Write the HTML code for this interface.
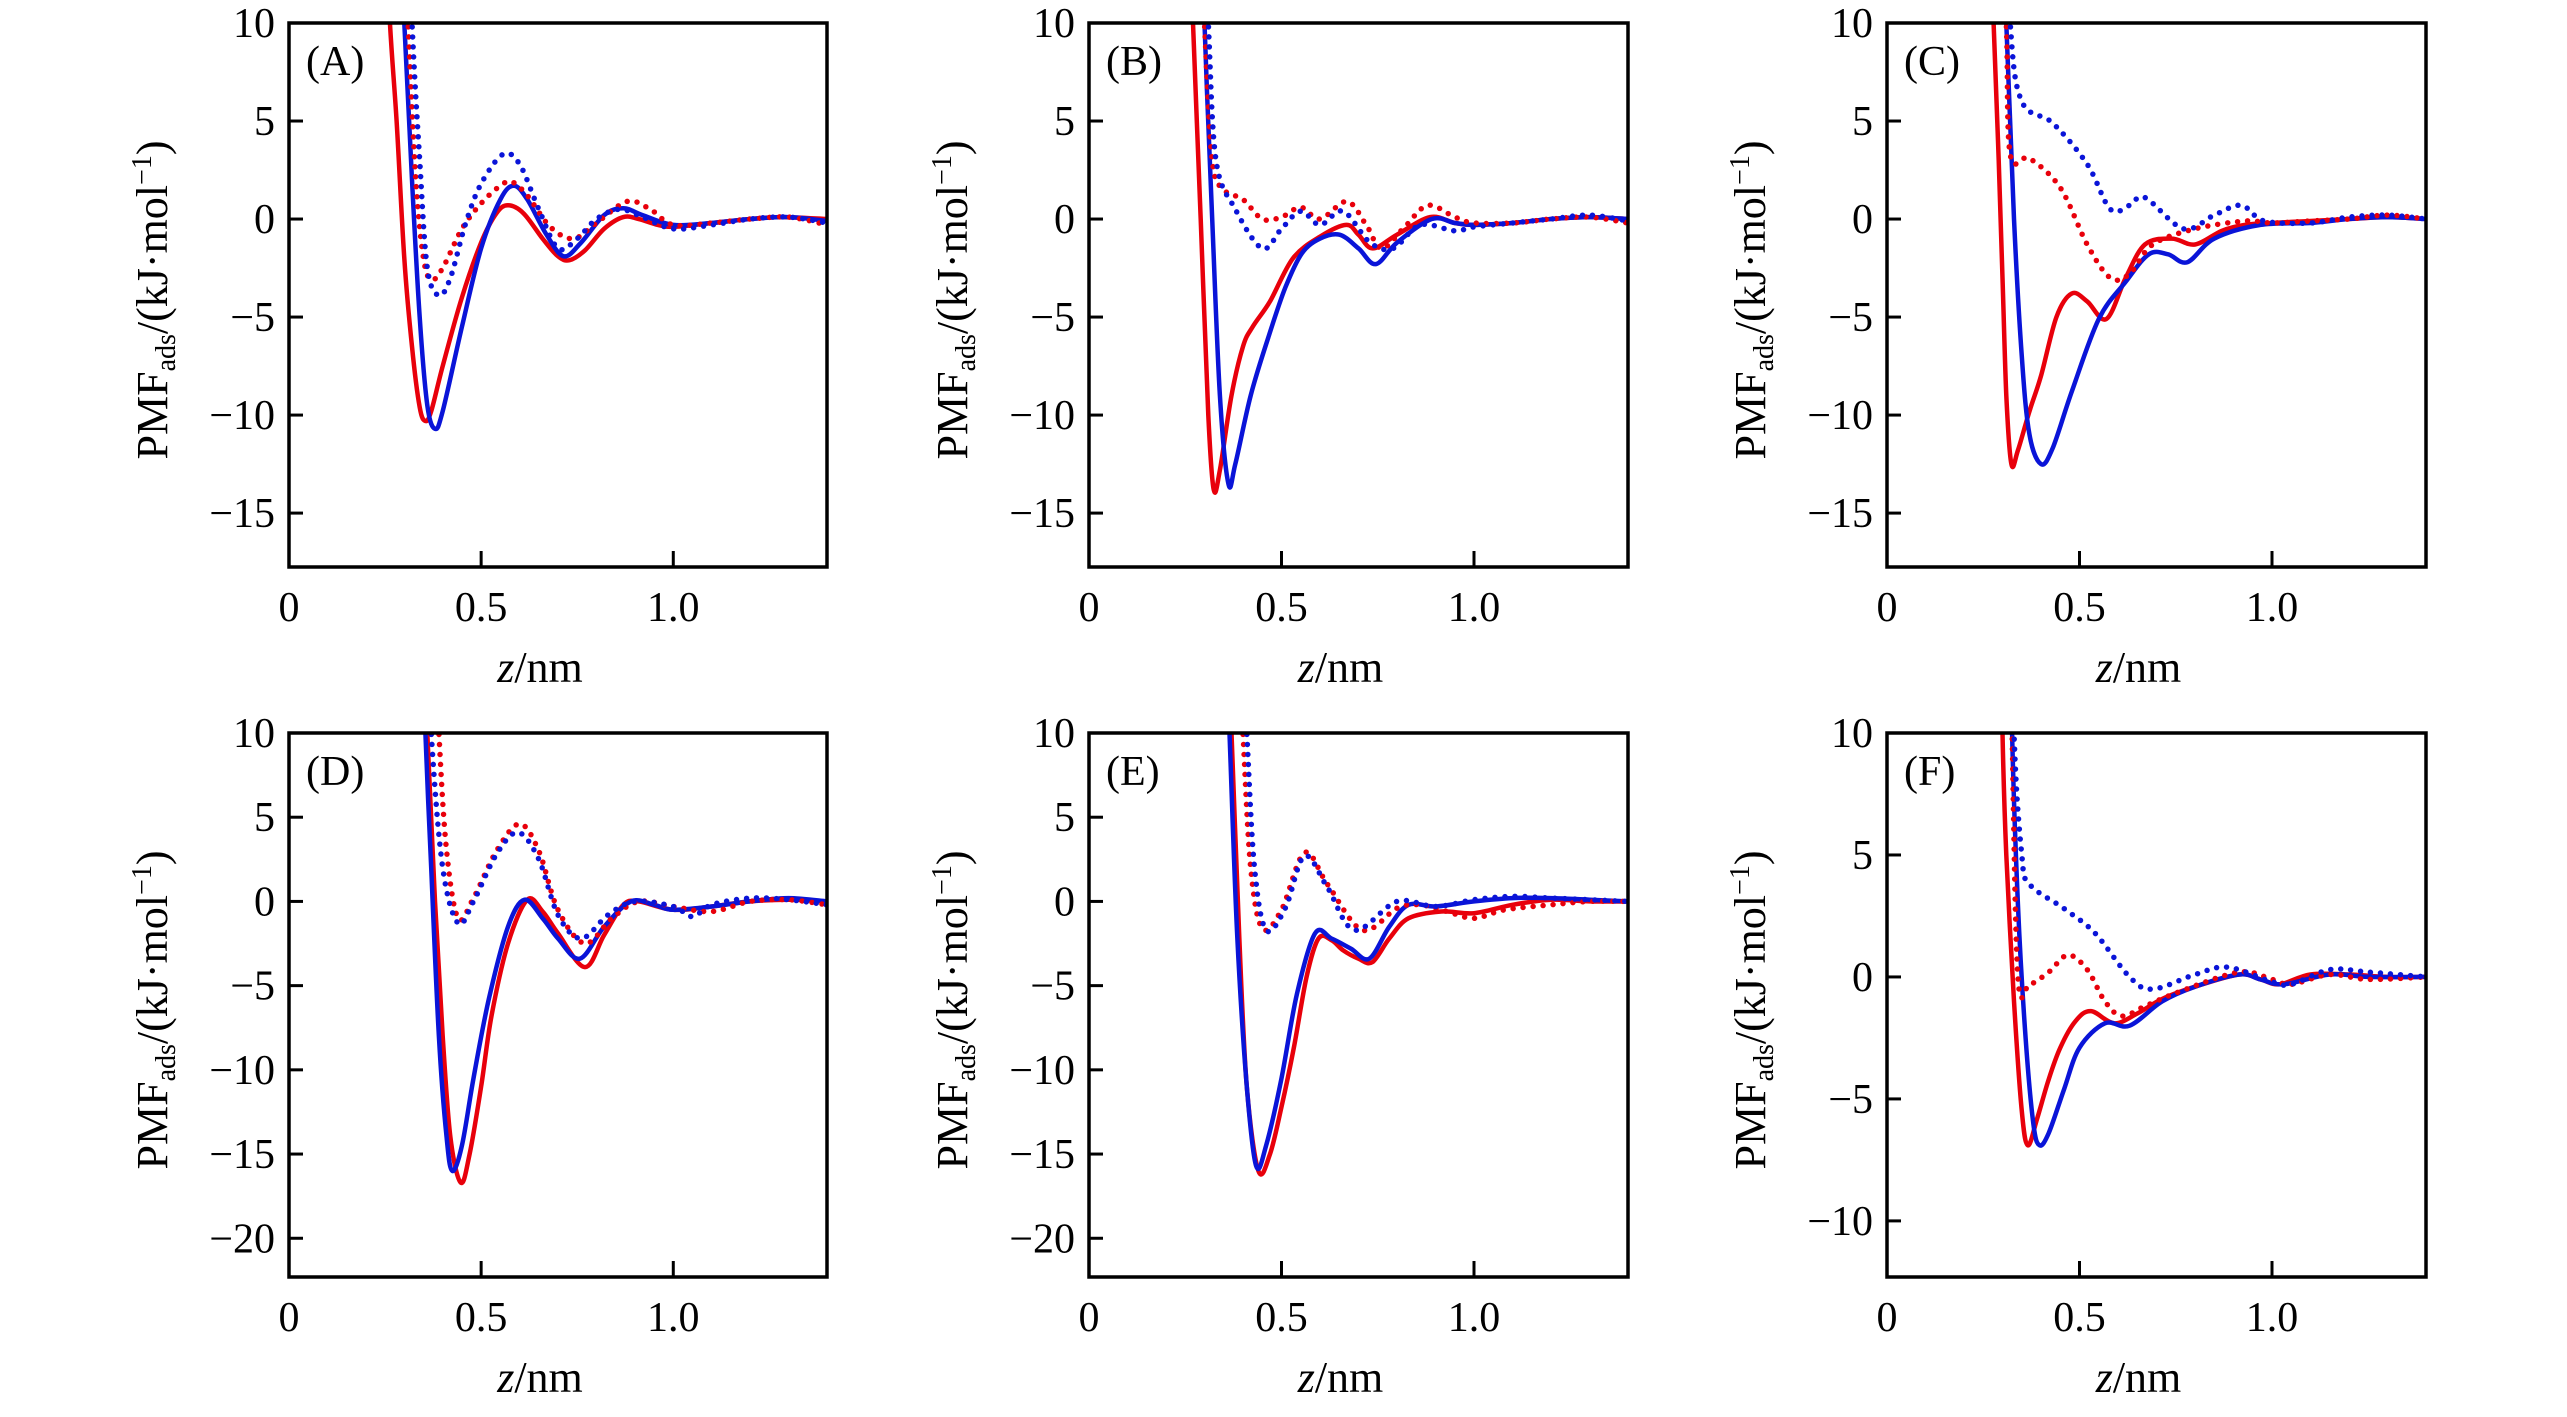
<!DOCTYPE html>
<html><head><meta charset="utf-8"><style>
html,body{margin:0;padding:0;background:#fff;}
svg{display:block;font-family:"Liberation Serif",serif;}
</style></head><body>
<svg id="fig" width="2567" height="1417" viewBox="0 0 2567 1417" xmlns="http://www.w3.org/2000/svg"></svg>
<script>
// ---- Data (z in nm, PMF in kJ/mol) ----
const A_rs_z=[0.245,0.26,0.28,0.30,0.32,0.34,0.355,0.37,0.40,0.45,0.50,0.54,0.57,0.61,0.66,0.70,0.73,0.77,0.82,0.87,0.91,0.96,1.0,1.1,1.2,1.28,1.4];
const A_rs_y=[20,11,5,-2,-6.5,-9.6,-10.3,-9.8,-7.5,-4,-1.2,0.3,0.7,0.3,-1.0,-1.9,-2.1,-1.6,-0.5,0.1,0.0,-0.3,-0.4,-0.2,0,0.1,0];
const A_bs_z=[0.28,0.30,0.32,0.34,0.36,0.38,0.40,0.45,0.50,0.55,0.585,0.62,0.67,0.715,0.76,0.82,0.87,0.92,1.0,1.1,1.2,1.3,1.4];
const A_bs_y=[20,10,2,-5,-9.5,-10.7,-9.8,-5.5,-1.5,1.0,1.7,1.0,-0.8,-1.9,-1.2,0.2,0.55,0.2,-0.3,-0.2,0,0.1,-0.1];
const A_rd_z=[0.29,0.31,0.33,0.35,0.37,0.40,0.45,0.50,0.55,0.58,0.62,0.68,0.74,0.80,0.88,0.94,1.0,1.1,1.2,1.3,1.4];
const A_rd_y=[20,10,2,-2,-3.1,-2.5,-0.5,0.8,1.7,1.9,1.2,-0.4,-1.0,-0.2,0.9,0.5,-0.3,-0.2,0,0.1,-0.3];
const A_bd_z=[0.30,0.32,0.34,0.36,0.39,0.42,0.46,0.50,0.557,0.60,0.65,0.70,0.75,0.80,0.86,0.92,1.0,1.1,1.2,1.3,1.4];
const A_bd_y=[20,10,3,-2.5,-3.9,-3.0,-0.2,1.8,3.3,2.8,0.5,-1.5,-1.0,0.0,0.5,0.1,-0.5,-0.3,0,0.1,-0.2];

const B_rs_z=[0.25,0.27,0.29,0.31,0.324,0.34,0.37,0.40,0.425,0.47,0.53,0.60,0.668,0.70,0.737,0.80,0.886,0.95,1.0,1.1,1.2,1.3,1.4];
const B_rs_y=[20,10,0,-10,-13.8,-12.8,-9,-6.5,-5.5,-4.2,-2.0,-0.9,-0.3,-0.8,-1.5,-0.8,0.1,-0.2,-0.3,-0.2,0,0.1,0];
const B_bs_z=[0.285,0.30,0.32,0.34,0.362,0.38,0.42,0.468,0.51,0.553,0.60,0.651,0.70,0.745,0.80,0.89,0.95,1.0,1.1,1.2,1.3,1.4];
const B_bs_y=[20,10,0,-9,-13.5,-12.5,-9,-5.9,-3.5,-1.75,-1.0,-0.8,-1.5,-2.3,-1.2,0,-0.2,-0.3,-0.2,0,0.1,0];
const B_rd_z=[0.28,0.30,0.32,0.35,0.40,0.45,0.50,0.55,0.60,0.67,0.72,0.76,0.82,0.88,0.95,1.0,1.1,1.2,1.3,1.4];
const B_rd_y=[20,10,3,1.5,1.0,0.0,0.1,0.6,0.0,0.9,-0.3,-1.5,-0.4,0.7,0.1,-0.2,-0.2,0,0.1,-0.2];
const B_bd_z=[0.29,0.31,0.33,0.38,0.45,0.50,0.55,0.60,0.66,0.73,0.79,0.86,0.95,1.0,1.1,1.2,1.3,1.4];
const B_bd_y=[20,10,3,0.5,-1.5,-0.5,0.4,-0.3,0.4,-1.2,-1.5,-0.3,-0.6,-0.4,-0.2,0,0.2,-0.1];

const C_rs_z=[0.26,0.277,0.29,0.30,0.31,0.323,0.34,0.37,0.40,0.44,0.48,0.52,0.57,0.62,0.67,0.74,0.80,0.87,0.93,1.0,1.1,1.2,1.3,1.4];
const C_rs_y=[20,10,3,-3,-9,-12.5,-11.8,-9.8,-8,-5,-3.8,-4.2,-5.1,-3.0,-1.3,-1.0,-1.3,-0.6,-0.3,-0.2,-0.1,0,0.1,0];
const C_bs_z=[0.29,0.31,0.33,0.35,0.37,0.40,0.43,0.48,0.55,0.62,0.68,0.73,0.78,0.85,0.97,1.1,1.2,1.3,1.4];
const C_bs_y=[20,10,0,-7,-11,-12.5,-11.7,-8.8,-5.1,-3.2,-1.8,-1.8,-2.2,-1.0,-0.3,-0.2,0,0.1,0];
const C_rd_z=[0.29,0.31,0.32,0.37,0.45,0.52,0.58,0.63,0.69,0.80,0.93,1.0,1.1,1.2,1.3,1.4];
const C_rd_y=[20,10,3.3,3.1,1.6,-1.3,-3.0,-2.8,-1.3,-0.5,-0.1,-0.2,-0.1,0,0.2,0];
const C_bd_z=[0.30,0.32,0.35,0.43,0.52,0.58,0.63,0.67,0.77,0.85,0.92,0.98,1.1,1.2,1.3,1.4];
const C_bd_y=[20,10,6,4.9,2.8,0.5,0.7,1.1,-0.5,0.2,0.7,-0.1,-0.2,0.1,0.2,0];

const D_rs_z=[0.34,0.36,0.38,0.40,0.42,0.447,0.47,0.50,0.527,0.57,0.62,0.66,0.70,0.77,0.82,0.87,0.91,1.0,1.1,1.2,1.3,1.4];
const D_rs_y=[20,10,0,-8,-14,-16.7,-15,-11,-6.8,-2.5,0.1,-0.6,-1.9,-3.9,-2.0,-0.2,0,-0.5,-0.3,0,0.1,0];
const D_bs_z=[0.34,0.355,0.37,0.39,0.41,0.425,0.45,0.48,0.52,0.57,0.613,0.66,0.70,0.757,0.82,0.89,0.95,1.0,1.1,1.2,1.3,1.4];
const D_bs_y=[20,10,2,-8,-14,-16.0,-14.5,-10.5,-5.8,-1.5,0.1,-1.0,-2.2,-3.4,-1.5,0,-0.2,-0.5,-0.3,0,0.2,0];
const D_rd_z=[0.37,0.39,0.41,0.44,0.48,0.54,0.60,0.65,0.70,0.77,0.84,0.91,1.0,1.1,1.2,1.3,1.4];
const D_rd_y=[20,10,3,-1.0,0.2,3.0,4.6,3.0,-0.5,-2.5,-1.0,0,-0.3,-0.6,0,0.1,-0.2];
const D_bd_z=[0.35,0.37,0.40,0.44,0.48,0.54,0.596,0.65,0.70,0.76,0.83,0.90,1.0,1.05,1.1,1.2,1.3,1.4];
const D_bd_y=[20,10,2,-1.3,0.0,2.8,4.1,2.5,-0.8,-2.2,-0.8,0,-0.3,-0.9,-0.2,0.2,0.1,-0.2];

const E_rs_z=[0.35,0.37,0.39,0.41,0.44,0.47,0.50,0.532,0.565,0.596,0.63,0.66,0.70,0.736,0.78,0.83,0.915,1.0,1.1,1.2,1.3,1.4];
const E_rs_y=[20,10,-2,-11,-16,-15,-12.2,-8.7,-4.5,-2.2,-2.3,-2.9,-3.4,-3.6,-2.2,-1.0,-0.6,-0.7,-0.2,0.1,0,0];
const E_bs_z=[0.35,0.365,0.385,0.41,0.434,0.46,0.50,0.54,0.587,0.63,0.68,0.728,0.78,0.83,0.9,1.0,1.1,1.2,1.3,1.4];
const E_bs_y=[20,10,-2,-11,-15.7,-14.5,-10.5,-5.5,-1.9,-2.2,-2.8,-3.4,-1.5,-0.2,-0.3,0,0.2,0.2,0.1,0];
const E_rd_z=[0.38,0.40,0.42,0.45,0.50,0.56,0.62,0.71,0.80,0.86,0.93,1.0,1.08,1.2,1.3,1.4];
const E_rd_y=[20,10,2,-1.6,-0.5,2.9,1.0,-1.7,-0.4,-0.2,-0.6,-1.0,-0.5,-0.2,0,0];
const E_bd_z=[0.39,0.41,0.43,0.46,0.51,0.56,0.62,0.69,0.80,0.9,1.0,1.1,1.2,1.3,1.4];
const E_bd_y=[20,10,2,-1.7,-0.4,2.7,0.8,-1.7,0,-0.3,0.1,0.3,0.2,0.1,0];

const F_rs_z=[0.29,0.30,0.31,0.33,0.35,0.366,0.39,0.42,0.45,0.49,0.53,0.59,0.65,0.715,0.80,0.915,0.97,1.02,1.1,1.2,1.3,1.4];
const F_rs_y=[20,10,5,-1,-5.5,-6.9,-5.8,-4.2,-2.9,-1.8,-1.4,-1.9,-1.5,-0.9,-0.4,0.1,-0.1,-0.3,0.1,0.1,0,0];
const F_bs_z=[0.315,0.325,0.34,0.36,0.38,0.396,0.42,0.46,0.50,0.566,0.63,0.715,0.80,0.915,0.97,1.03,1.15,1.25,1.4];
const F_bs_y=[20,10,3,-2.5,-6,-6.9,-6.4,-4.6,-2.9,-1.9,-2.0,-1.0,-0.4,0.1,-0.1,-0.3,0.1,0,0];
const F_rd_z=[0.315,0.325,0.34,0.37,0.42,0.47,0.52,0.566,0.61,0.67,0.76,0.915,1.0,1.05,1.15,1.25,1.4];
const F_rd_y=[20,10,0,-0.3,0.2,0.9,0.3,-1.0,-1.6,-1.2,-0.6,0.2,-0.1,-0.3,0.1,-0.1,0];
const F_bd_z=[0.32,0.33,0.35,0.37,0.46,0.54,0.63,0.69,0.80,0.885,1.0,1.05,1.15,1.25,1.4];
const F_bd_y=[20,10,5,3.8,2.8,1.8,0,-0.5,0.1,0.4,-0.2,-0.3,0.3,0.2,0];

const yTicksTop=[10,5,0,-5,-10,-15];
const yTicksDE=[10,5,0,-5,-10,-15,-20];
const yTicksF=[10,5,0,-5,-10];
const xTicks=[0,0.5,1.0];
const xTickLabels=["0","0.5","1.0"];

const panels=[
 {id:"A",x0:289,x1:827,y0:23,y1:567,ymax:10,ymin:-17.75,ticks:yTicksTop,s:[[A_rs_z,A_rs_y,"#e8000b",0],[A_bs_z,A_bs_y,"#0a14d8",0],[A_rd_z,A_rd_y,"#e8000b",1],[A_bd_z,A_bd_y,"#0a14d8",1]]},
 {id:"B",x0:1089,x1:1628,y0:23,y1:567,ymax:10,ymin:-17.75,ticks:yTicksTop,s:[[B_rs_z,B_rs_y,"#e8000b",0],[B_bs_z,B_bs_y,"#0a14d8",0],[B_rd_z,B_rd_y,"#e8000b",1],[B_bd_z,B_bd_y,"#0a14d8",1]]},
 {id:"C",x0:1887,x1:2426,y0:23,y1:567,ymax:10,ymin:-17.75,ticks:yTicksTop,s:[[C_rs_z,C_rs_y,"#e8000b",0],[C_bs_z,C_bs_y,"#0a14d8",0],[C_rd_z,C_rd_y,"#e8000b",1],[C_bd_z,C_bd_y,"#0a14d8",1]]},
 {id:"D",x0:289,x1:827,y0:733,y1:1277,ymax:10,ymin:-22.3,ticks:yTicksDE,s:[[D_rs_z,D_rs_y,"#e8000b",0],[D_bs_z,D_bs_y,"#0a14d8",0],[D_rd_z,D_rd_y,"#e8000b",1],[D_bd_z,D_bd_y,"#0a14d8",1]]},
 {id:"E",x0:1089,x1:1628,y0:733,y1:1277,ymax:10,ymin:-22.3,ticks:yTicksDE,s:[[E_rs_z,E_rs_y,"#e8000b",0],[E_bs_z,E_bs_y,"#0a14d8",0],[E_rd_z,E_rd_y,"#e8000b",1],[E_bd_z,E_bd_y,"#0a14d8",1]]},
 {id:"F",x0:1887,x1:2426,y0:733,y1:1277,ymax:10,ymin:-12.3,ticks:yTicksF,s:[[F_rs_z,F_rs_y,"#e8000b",0],[F_bs_z,F_bs_y,"#0a14d8",0],[F_rd_z,F_rd_y,"#e8000b",1],[F_bd_z,F_bd_y,"#0a14d8",1]]}
];
const NS="http://www.w3.org/2000/svg";
const svg=document.getElementById("fig");
function mk(tag,attrs,parent){const e=document.createElementNS(NS,tag);for(const k in attrs)e.setAttribute(k,attrs[k]);(parent||svg).appendChild(e);return e;}
function smooth(pts){
 let d="M"+pts[0][0].toFixed(1)+","+pts[0][1].toFixed(1);
 for(let i=0;i<pts.length-1;i++){
  const p0=pts[i-1]||pts[i],p1=pts[i],p2=pts[i+1],p3=pts[i+2]||p2;
  const c1=[p1[0]+(p2[0]-p0[0])/6,p1[1]+(p2[1]-p0[1])/6];
  const c2=[p2[0]-(p3[0]-p1[0])/6,p2[1]-(p3[1]-p1[1])/6];
  d+="C"+c1[0].toFixed(1)+","+c1[1].toFixed(1)+" "+c2[0].toFixed(1)+","+c2[1].toFixed(1)+" "+p2[0].toFixed(1)+","+p2[1].toFixed(1);
 }
 return d;
}
panels.forEach(p=>{
 const sx=z=>p.x0+(z/1.4)*(p.x1-p.x0);
 const sy=v=>p.y0+(p.ymax-v)/(p.ymax-p.ymin)*(p.y1-p.y0);
 const g=mk("g",{});
 
 
 const cp=mk("clipPath",{id:"clip"+p.id},g);
 mk("rect",{x:p.x0,y:p.y0,width:p.x1-p.x0,height:p.y1-p.y0},cp);
 const names=["red-solid","blue-solid","red-dotted","blue-dotted"];
 p.s.forEach((s,i)=>{
  const pts=s[0].map((z,j)=>[sx(z),sy(s[1][j])]);
  const path=mk("path",{d:smooth(pts),fill:"none",stroke:s[2],"stroke-width":s[3]?5.5:4.5,"stroke-linecap":"round","stroke-linejoin":"round","clip-path":"url(#clip"+p.id+")"},g);
  if(s[3])path.setAttribute("stroke-dasharray","0 10");
  
  
 });
 const fr=mk("rect",{x:p.x0,y:p.y0,width:p.x1-p.x0,height:p.y1-p.y0,fill:"none",stroke:"#000","stroke-width":3.5},g);
 
 
 p.ticks.forEach(t=>{
  const y=sy(t);
  if(t!==10&&t!==p.ymin)mk("line",{x1:p.x0,x2:p.x0+14,y1:y,y2:y,stroke:"#000","stroke-width":3},g);
  const tx=mk("text",{x:p.x0-14,y:y+14,"font-size":42,"text-anchor":"end",fill:"#000"},g);
  tx.textContent=t<0?"\u2212"+Math.abs(t):String(t);
  
  
 });
 xTicks.forEach((t,i)=>{
  const x=sx(t);
  if(t>0)mk("line",{x1:x,x2:x,y1:p.y1,y2:p.y1-16,stroke:"#000","stroke-width":3},g);
  const tx=mk("text",{x:x,y:p.y1+54,"font-size":42,"text-anchor":"middle",fill:"#000"},g);
  tx.textContent=xTickLabels[i];
  
  
 });
 const lab=mk("text",{x:p.x0+17,y:p.y0+52,"font-size":42,fill:"#000"},g);
 lab.textContent="("+p.id+")";
 
 
 const xl=mk("text",{x:(p.x0+p.x1)/2-18,y:p.y1+115,"font-size":44,"text-anchor":"middle",fill:"#000"},g);
 xl.innerHTML='<tspan font-style="italic">z</tspan>/nm';
 
 
 const cy=(p.y0+p.y1)/2+5, cx=p.x0-122;
 const yl=mk("text",{x:cx,y:cy,"font-size":44,"text-anchor":"middle",fill:"#000",transform:"rotate(-90 "+cx+" "+cy+")"},g);
 yl.innerHTML='PMF<tspan font-size="28" dy="8">ads</tspan><tspan dy="-8">/(kJ·mol</tspan><tspan font-size="28" dy="-16">−1</tspan><tspan dy="16">)</tspan>';
 
 
});
</script>
</body></html>
